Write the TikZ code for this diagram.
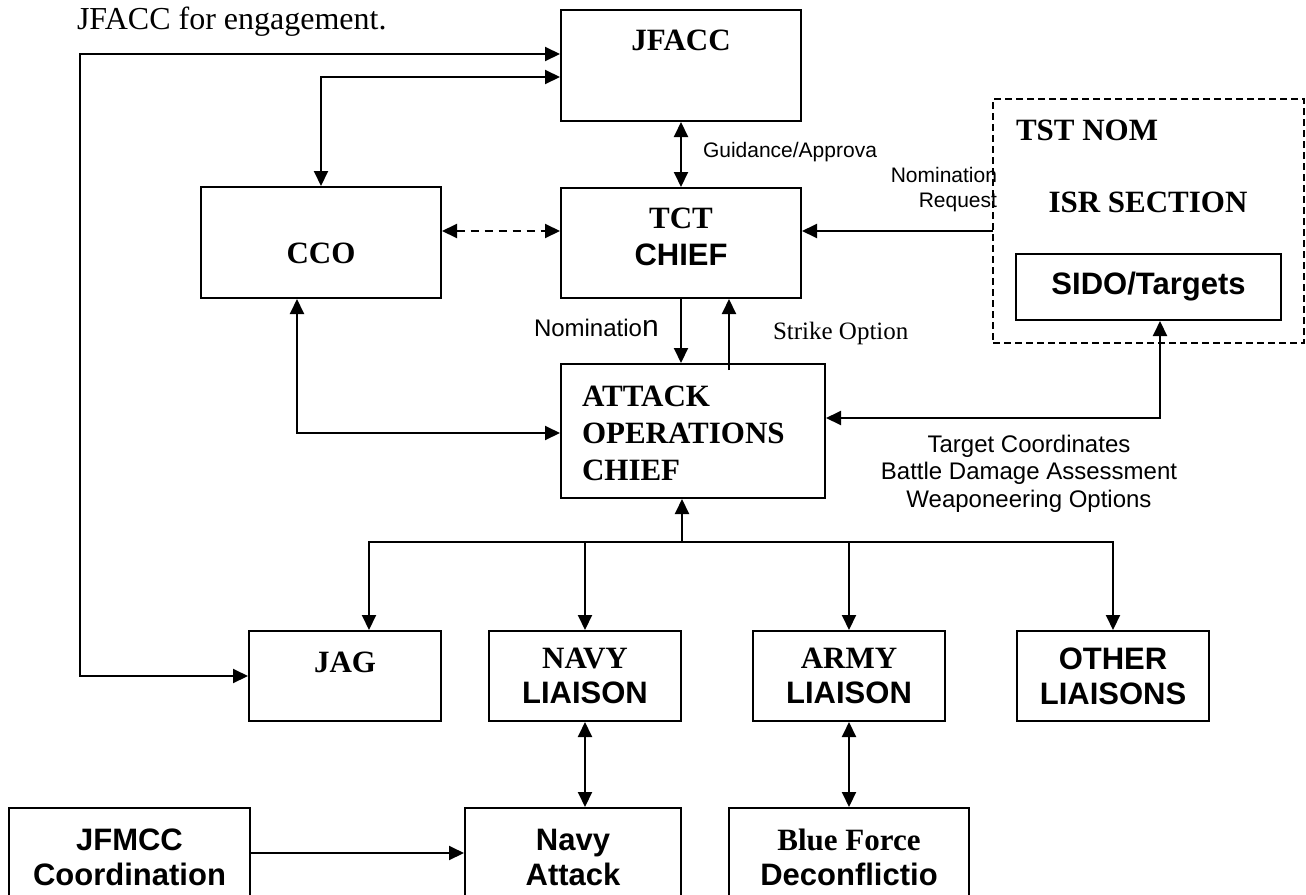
\documentclass[tikz,border=0pt]{standalone}
\usepackage{fontspec}
\setmainfont{Liberation Serif}
\newfontfamily\arialfam{Liberation Sans}
\usetikzlibrary{arrows.meta}

\newcommand\boxserif{\fontsize{15.5pt}{18.5pt}\selectfont\bfseries}
\newcommand\boxsans{\arialfam\fontsize{15.5pt}{18.5pt}\selectfont\bfseries}
\newcommand\lowserif{\fontsize{15.5pt}{17.5pt}\selectfont\bfseries}
\newcommand\lowsans{\arialfam\fontsize{15.5pt}{17.5pt}\selectfont\bfseries}
\newcommand\smallsans{\arialfam\fontsize{10.5pt}{12.5pt}\selectfont}
\newcommand\midsans{\arialfam\fontsize{12pt}{13.75pt}\selectfont}

\begin{document}
\begin{tikzpicture}[
		x=0.5pt, y=-0.5pt,
		line width=1pt,
		>={Triangle[length=7.5pt,width=7pt]},
		box/.style={draw, rectangle, inner sep=0pt},
		every label/.append style={inner sep=0pt}
	]
  \useasboundingbox (0,0) rectangle (1306,894);
  \clip (0,0) rectangle (1306,894);

  \node (intro) [anchor=base west, inner sep=0pt, font=\fontsize{16pt}{19pt}\selectfont] at (76,29) {JFACC for engagement.};

  \node (jfacc) [box, minimum width=120pt, minimum height=55.5pt, label={[font=\boxserif, yshift=12.75pt]center:JFACC}] at (681,65.5) {};
  \node (tct) [box, minimum width=120pt, minimum height=55pt, label={[font=\boxserif, align=center, yshift=3.25pt]center:{TCT\\\boxsans CHIEF}}] at (681,243) {};
  \node (cco) [box, minimum width=120pt, minimum height=55.5pt, label={[font=\boxserif, yshift=-5.25pt]center:CCO}] at (321,242.5) {};
  \node (attack) [box, minimum width=132pt, minimum height=67pt, label={[font=\boxserif, anchor=west, align=left, xshift=10.5pt, yshift=-1pt]west:{ATTACK\\OPERATIONS\\CHIEF}}] at (693,431) {};

  \node (tst) [box, dash pattern=on 3.5pt off 2pt, minimum width=155.5pt, minimum height=122pt] at (1148.5,221) {};
  \node (tstnom) [anchor=west, inner sep=0pt, font=\boxserif] at (1015,130) {TST NOM};
  \node (isr) [inner sep=0pt, font=\boxserif] at (1148,202) {ISR SECTION};
  \node (sido) [box, minimum width=132.5pt, minimum height=33pt, label={[font=\boxsans]center:SIDO/Targets}] at (1148.5,287) {};

  \node (jag) [box, minimum width=96pt, minimum height=45pt, label={[font=\boxserif, yshift=7pt]center:JAG}] at (345,676) {};
  \node (navy) [box, minimum width=96pt, minimum height=45pt, label={[font=\lowserif, align=center]center:{NAVY\\\lowsans LIAISON}}] at (585,676) {};
  \node (army) [box, minimum width=96pt, minimum height=45pt, label={[font=\lowserif, align=center]center:{ARMY\\\lowsans LIAISON}}] at (849,676) {};
  \node (other) [box, minimum width=96pt, minimum height=45pt, label={[font=\lowsans, align=center]center:{OTHER\\LIAISONS}}] at (1113,676) {};

  \node (jfmcc) [box, minimum width=120.5pt, minimum height=45pt, label={[font=\lowsans, align=center, yshift=-2.25pt]center:{JFMCC\\Coordination}}] at (129.5,853) {};
  \node (navyatk) [box, minimum width=108pt, minimum height=45pt, label={[font=\lowsans, align=center, yshift=-2.25pt]center:{Navy\\Attack}}] at (573,853) {};
  \node (blue) [box, minimum width=120pt, minimum height=45pt, label={[font=\lowserif, align=center, yshift=-2.25pt]center:{Blue Force\\\lowsans Deconflictio}}] at (849,853) {};

  % connector labels
  \node (guid) [anchor=west, inner sep=0pt, font=\smallsans] at (702,152) {Guidance/Approva};
  \node (reqlbl) [anchor=east, align=right, inner sep=0pt, font=\smallsans] at (998,190) {Nomination\\Request};
  \node (nomlbl) [anchor=west, inner sep=0pt, font=\midsans] at (533,328) {Nominatio{\fontsize{15pt}{15pt}\selectfont n}};
  \node (strikelbl) [anchor=west, inner sep=0pt, font=\fontsize{12.5pt}{15pt}\selectfont] at (772,333) {Strike Option};
  \node (tgtlbl) [anchor=north, align=center, inner sep=0pt, font=\midsans] at (1029,434) {Target Coordinates\\Battle Damage Assessment\\Weaponeering Options};

  \coordinate (loop) at (80,54);
  \coordinate (ccoup) at (321,77);
  \coordinate (req) at (993,231);
  \coordinate (strike) at (729,370);
  \coordinate (ccodn) at (297,433);
  \coordinate (sidodn) at (1160,418);
  \coordinate (bus) at (682,542);

  \draw[<->] (jfacc.west |- loop) -- (loop) |- (jag.west);
  \draw[<->] (jfacc.west |- ccoup) -- (ccoup) -- (cco.north);
  \draw[<->] (jfacc.south) -- (tct.north);
  \draw[<->, dash pattern=on 4pt off 3pt] (cco.east |- req) -- (tct.west |- req);
  \draw[->] (req) -- (tct.east |- req);
  \draw[->] (tct.south) -- (tct.south |- attack.north);
  \draw[->] (strike) -- (strike |- tct.south);
  \draw[<->] (cco.south -| ccodn) -- (ccodn) -- (attack.west |- ccodn);
  \draw[<->] (sido.south -| sidodn) -- (sidodn) -- (attack.east |- sidodn);
  \draw[->] (bus) -- (bus |- attack.south);
  \foreach \n/\x in {jag/369, navy/585, army/849, other/1113}
    \draw[->] (bus) -| (\n.north -| \x,0);
  \draw[<->] (navy.south) -- (navy.south |- navyatk.north);
  \draw[<->] (army.south) -- (blue.north);
  \draw[->] (jfmcc.east) -- (navyatk.west);
\end{tikzpicture}
\end{document}
